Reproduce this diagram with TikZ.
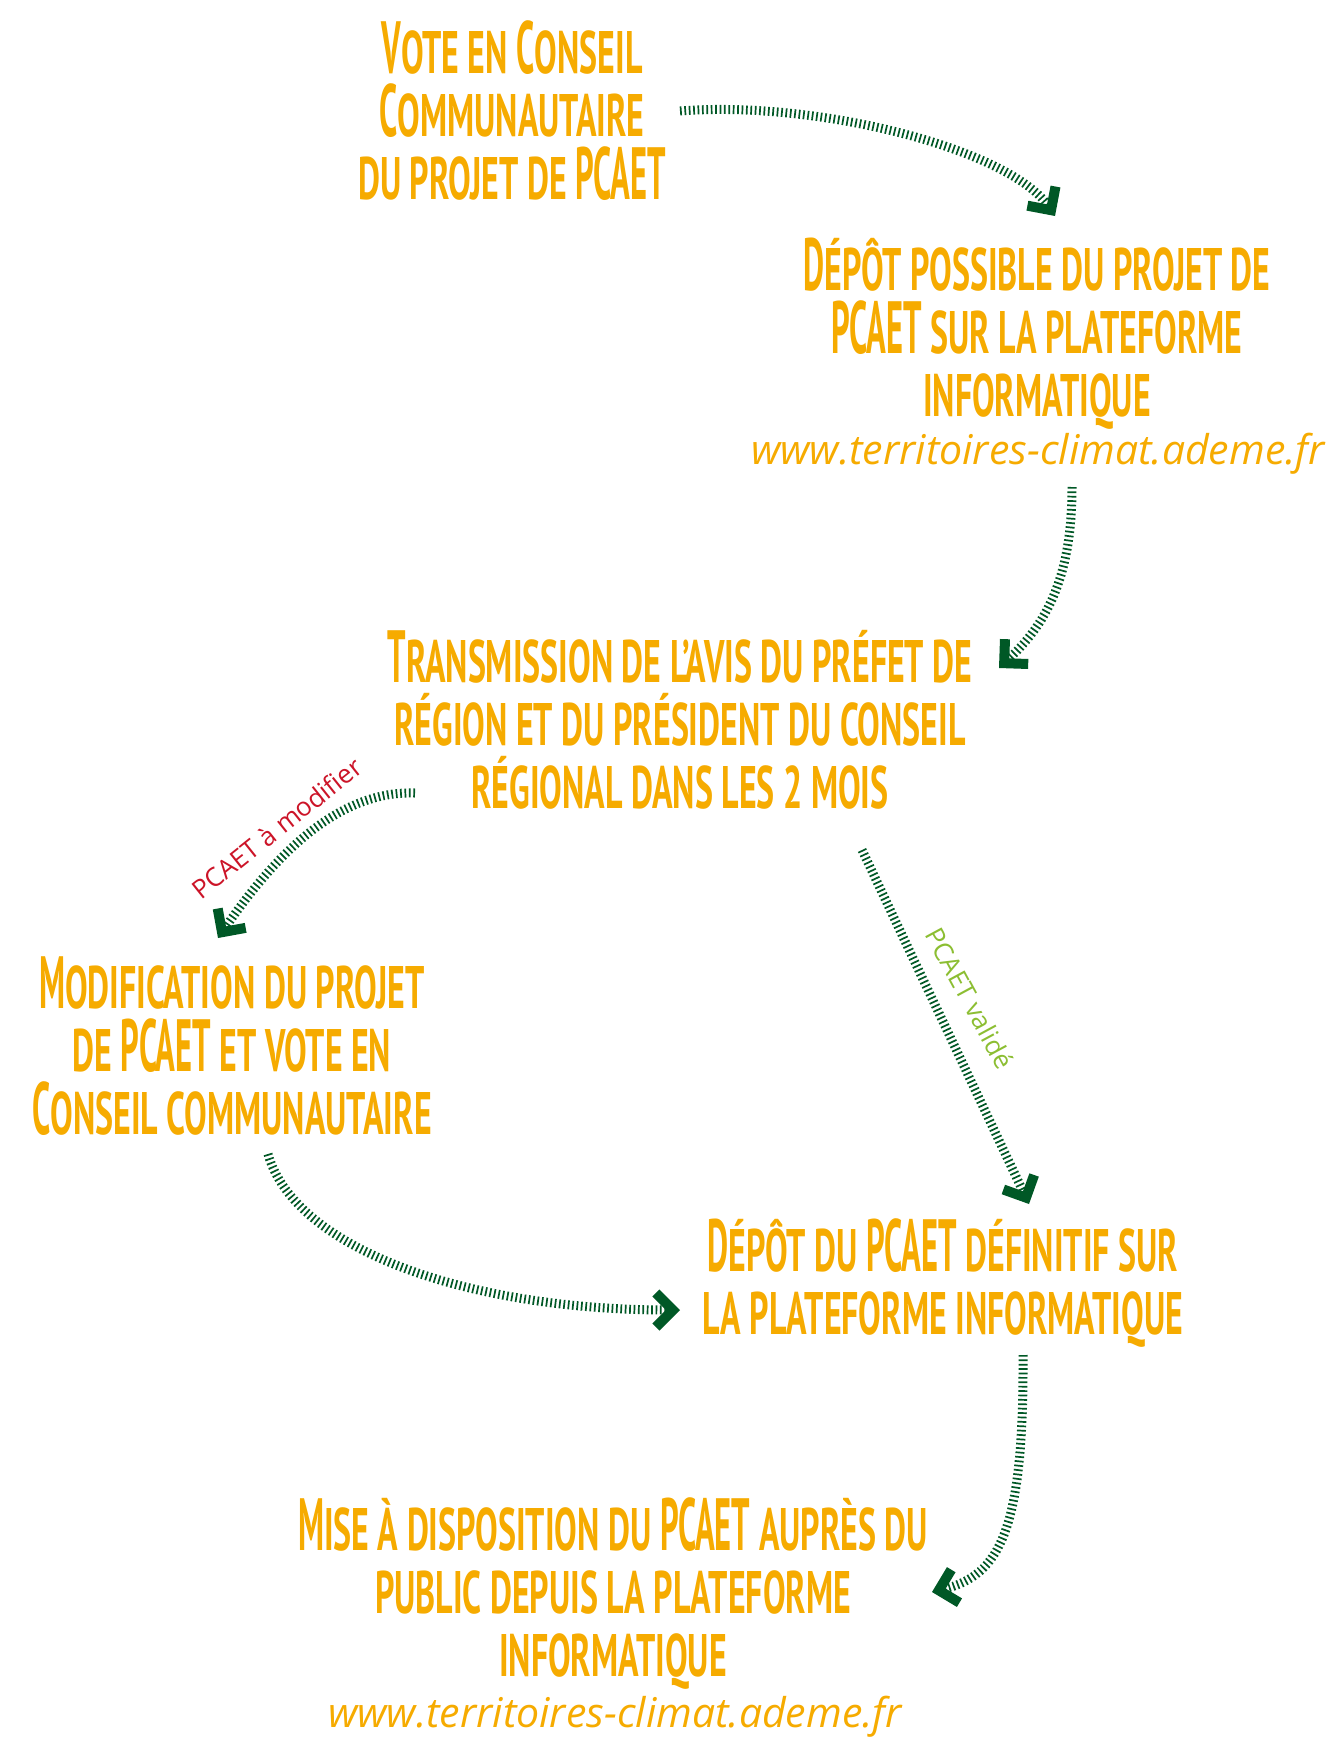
\documentclass[tikz,border=0pt]{standalone}
\usepackage{fontspec}
\usetikzlibrary{arrows.meta}
\newfontfamily\amatic[FakeStretch=0.565]{PT Sans}
\newfontfamily\amaticB[FakeStretch=0.44]{PT Sans}
\newfontfamily\opensans{Open Sans}
\definecolor{orng}{RGB}{246,171,0}
\definecolor{arrgreen}{RGB}{0,88,38}
\definecolor{labred}{RGB}{204,20,40}
\definecolor{labgreen}{RGB}{140,190,50}
\newcommand\B[1]{{\amaticB\bfseries\fontsize{74pt}{63pt}\selectfont #1}}
\newcommand\ST{\rule[-15pt]{0pt}{77pt}}
\newcommand\blkfont{\amatic\bfseries\fontsize{60pt}{63pt}\selectfont\lineskiplimit=-200pt\relax}
\tikzset{
  blk/.style={font=\blkfont, text=orng, align=center, inner sep=0pt, anchor=north},
  urltext/.style={font=\opensans\itshape\fontsize{41pt}{48pt}\selectfont, text=orng,
    inner sep=0pt, anchor=base},
  lab/.style={font=\opensans\fontsize{26pt}{30pt}\selectfont, inner sep=0pt},
  arr/.style={draw=arrgreen, line width=9pt, dash pattern=on 1.7pt off 2.7pt,
    -{Straight Barb[length=17pt, width=34pt, line width=10pt, sharp]}}
}
\begin{document}
\begin{tikzpicture}[x=1pt,y=-1pt]
\fill[white] (0,0) rectangle (1342,1737);
\useasboundingbox (0,0) rectangle (1342,1737);

\node[blk] (vote) at (512,11) {\ST\B{V}OTE EN \B{C}ONSEIL\\ \ST\B{C}OMMUNAUTAIRE\\ \ST DU PROJET DE \B{PCAET}};
\node[blk] (depot1) at (1037,228) {\ST\B{D}ÉPÔT POSSIBLE DU PROJET DE\\ \ST\B{PCAET} SUR LA PLATEFORME\\ \ST INFORMATIQUE};
\node[urltext] (url1) at (1038,464) {www.territoires-climat.ademe.fr};
\node[blk] (trans) at (680,620) {\ST\B{T}RANSMISSION DE L’AVIS DU PRÉFET DE\\ \ST RÉGION ET DU PRÉSIDENT DU CONSEIL\\ \ST RÉGIONAL DANS LES 2 MOIS};
\node[blk] (modif) at (232,946) {\ST\B{M}ODIFICATION DU PROJET\\ \ST DE \B{PCAET} ET VOTE EN\\ \ST\B{C}ONSEIL COMMUNAUTAIRE};
\node[blk] (depot2) at (943,1209) {\ST\B{D}ÉPÔT DU \B{PCAET} DÉFINITIF SUR\\ \ST LA PLATEFORME INFORMATIQUE};
\node[blk] (mise) at (613,1488) {\ST\B{M}ISE À DISPOSITION DU \B{PCAET} AUPRÈS DU\\ \ST PUBLIC DEPUIS LA PLATEFORME\\ \ST INFORMATIQUE};
\node[urltext] (url2) at (615,1727) {www.territoires-climat.ademe.fr};

\node[lab, text=labred, rotate=38.5] (labmod) at (277,828) {PCAET à modifier};
\node[lab, text=labgreen, rotate=-61.6] (labval) at (970,998) {PCAET validé};

\coordinate (a1s) at (680,111);
\coordinate (a1e) at (1055,216);
\coordinate (a2s) at (1072,487);
\coordinate (a2e) at (999,668);
\coordinate (a3s) at (415,793);
\coordinate (a3e) at (218,938);
\coordinate (a4s) at (862,850);
\coordinate (a4e) at (1029,1204);
\coordinate (a5s) at (268,1154);
\coordinate (a5e) at (680,1310);
\coordinate (a6s) at (1023,1355);
\coordinate (a6e) at (932,1592);

\draw[arr] (a1s) .. controls (820,100) and (1010,150) .. (a1e);
\draw[arr] (a2s) .. controls (1072,580) and (1045,625) .. (a2e);
\draw[arr] (a3s) .. controls (330,790) and (265,870) .. (a3e);
\draw[arr] (a4s) -- (a4e);
\draw[arr] (a5s) .. controls (295,1250) and (470,1310) .. (a5e);
\draw[arr] (a6s) .. controls (1024,1530) and (1000,1575) .. (a6e);
\end{tikzpicture}
\end{document}
